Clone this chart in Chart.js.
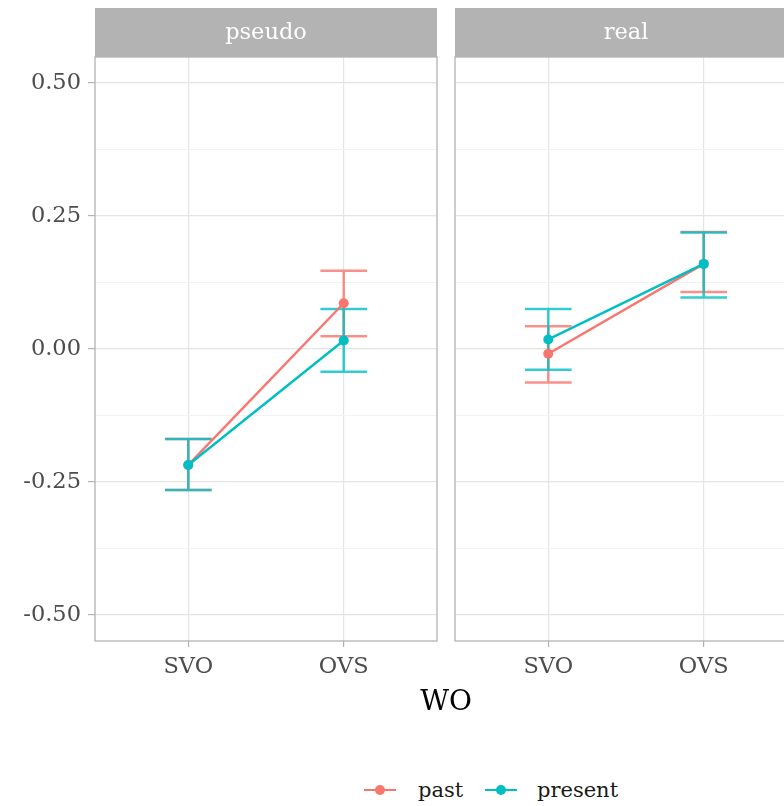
<!DOCTYPE html>
<html><head><meta charset="utf-8">
<script src="https://cdn.jsdelivr.net/npm/chart.js@4"></script>
<style>
html,body{margin:0;padding:0;background:#fff;}
#wrap{position:relative;width:784px;height:806px;overflow:hidden;background:#fff;font-family:"DejaVu Serif",serif;}
#c1{position:absolute;left:0;top:0;}
#c2{position:absolute;left:440px;top:0;}
#xtitle{position:absolute;left:346px;width:200px;top:685px;text-align:center;font-size:28px;line-height:32px;color:#000;}
.lg{position:absolute;top:778px;height:24px;line-height:24px;font-size:21px;color:#1a1a1a;}
.mk{position:absolute;top:789px;height:2px;width:32px;}
.dot{position:absolute;top:785px;width:10px;height:10px;border-radius:50%;}
</style></head>
<body>
<div id="wrap">
<canvas id="c1" width="442" height="690"></canvas>
<canvas id="c2" width="362" height="690"></canvas>
<div id="xtitle">WO</div>
<div class="mk" style="left:364px;background:#F8766D"></div><div class="dot" style="left:375px;background:#F8766D"></div>
<div class="lg" style="left:418px">past</div>
<div class="mk" style="left:485px;background:#00BFC4"></div><div class="dot" style="left:496px;background:#00BFC4"></div>
<div class="lg" style="left:537px">present</div>
</div>
<script>
const categories = ['SVO', 'OVS'];
const panels = ['pseudo', 'real'];
const seriesNames = ['past', 'present'];
const seriesColors = ['#F8766D', '#00BFC4'];

const pseudoPast = [-0.218, 0.086];
const pseudoPastLo = [-0.265, 0.024];
const pseudoPastHi = [-0.169, 0.147];
const pseudoPresent = [-0.218, 0.016];
const pseudoPresentLo = [-0.265, -0.043];
const pseudoPresentHi = [-0.169, 0.075];

const realPast = [-0.009, 0.160];
const realPastLo = [-0.063, 0.107];
const realPastHi = [0.043, 0.220];
const realPresent = [0.018, 0.160];
const realPresentLo = [-0.039, 0.097];
const realPresentHi = [0.075, 0.219];

const yTickValues = [-0.5, -0.375, -0.25, -0.125, 0, 0.125, 0.25, 0.375, 0.5];
const yTickLabels = ['-0.50', '', '-0.25', '', '0.00', '', '0.25', '', '0.50'];
const yMin = -0.549, yMax = 0.549;

const FONT = '"DejaVu Serif", serif';
const isMajor = v => Math.abs(v * 4 - Math.round(v * 4)) < 1e-9;

const deco = {
  id: 'deco',
  beforeDraw(chart, args, opts) {
    const ca = chart.chartArea, c = chart.ctx;
    c.save();
    c.fillStyle = '#B3B3B3';
    c.fillRect(ca.left, 8, ca.right - ca.left, 49);
    c.fillStyle = '#ffffff';
    c.font = '22.5px ' + FONT;
    c.textAlign = 'center';
    c.textBaseline = 'middle';
    c.fillText(opts.strip, (ca.left + ca.right) / 2, 33);
    c.restore();
  },
  beforeDatasetsDraw(chart) {
    const ca = chart.chartArea, c = chart.ctx;
    c.save();
    c.strokeStyle = '#B3B3B3';
    c.lineWidth = 1.3;
    c.strokeRect(ca.left, ca.top, ca.right - ca.left, ca.bottom - ca.top);
    const xs = chart.scales.x, ys = chart.scales.y;
    const half = xs.getPixelForValue(1.15) - xs.getPixelForValue(1);
    chart.data.datasets.forEach(ds => {
      c.strokeStyle = ds.borderColor;
      c.globalAlpha = 0.8;
      c.lineWidth = 2.5;
      ds.errLo.forEach((lo, i) => {
        const x = xs.getPixelForValue(i + 1);
        const yl = ys.getPixelForValue(lo), yh = ys.getPixelForValue(ds.errHi[i]);
        c.beginPath();
        c.moveTo(x, yl); c.lineTo(x, yh);
        c.moveTo(x - half, yl); c.lineTo(x + half, yl);
        c.moveTo(x - half, yh); c.lineTo(x + half, yh);
        c.stroke();
      });
    });
    c.restore();
  }
};

function makePanel(id, strip, series, showY) {
  const datasets = series.map((s, k) => ({
    label: seriesNames[k],
    data: s.v.map((v, i) => ({ x: i + 1, y: v })),
    errLo: s.lo, errHi: s.hi,
    borderColor: seriesColors[k],
    backgroundColor: seriesColors[k],
    pointBackgroundColor: seriesColors[k],
    pointBorderWidth: 0,
    pointRadius: 5,
    borderWidth: 2.4,
    order: 1 - k
  }));
  return new Chart(document.getElementById(id), {
    type: 'line',
    data: { datasets },
    plugins: [deco],
    options: {
      responsive: false, animation: false,
      layout: { padding: { top: 57, right: 0, left: 0, bottom: 0 } },
      plugins: { legend: { display: false }, tooltip: { enabled: false }, deco: { strip } },
      scales: {
        x: {
          type: 'linear', min: 0.4, max: 2.6,
          afterBuildTicks: s => { s.ticks = categories.map((c, i) => ({ value: i + 1 })); },
          afterFit: s => { s.height = 49; },
          ticks: { callback: v => categories[Math.round(v) - 1], color: '#4D4D4D', font: { family: FONT, size: 22.5 }, padding: 7, maxRotation: 0, autoSkip: false },
          grid: { color: '#E4E4E4', lineWidth: 1.2, tickColor: '#B3B3B3', tickLength: 6 },
          border: { display: false }
        },
        y: {
          type: 'linear', min: yMin, max: yMax,
          afterBuildTicks: s => { s.ticks = yTickValues.map(v => ({ value: v })); },
          afterFit: s => { s.width = showY ? 95 : 15; },
          ticks: { display: showY, callback: (v, i) => yTickLabels[i], color: '#4D4D4D', font: { family: FONT, size: 22.5 }, padding: 7, autoSkip: false },
          grid: {
            color: ctx => isMajor(ctx.tick.value) ? '#E4E4E4' : '#F2F2F2',
            lineWidth: ctx => isMajor(ctx.tick.value) ? 1.2 : 1,
            tickColor: ctx => (showY && isMajor(ctx.tick.value)) ? '#B3B3B3' : 'rgba(0,0,0,0)',
            tickLength: 7, drawTicks: showY
          },
          border: { display: false }
        }
      }
    }
  });
}

makePanel('c1', panels[0], [
  { v: pseudoPast, lo: pseudoPastLo, hi: pseudoPastHi },
  { v: pseudoPresent, lo: pseudoPresentLo, hi: pseudoPresentHi }
], true);
makePanel('c2', panels[1], [
  { v: realPast, lo: realPastLo, hi: realPastHi },
  { v: realPresent, lo: realPresentLo, hi: realPresentHi }
], false);
</script>
</body></html>
